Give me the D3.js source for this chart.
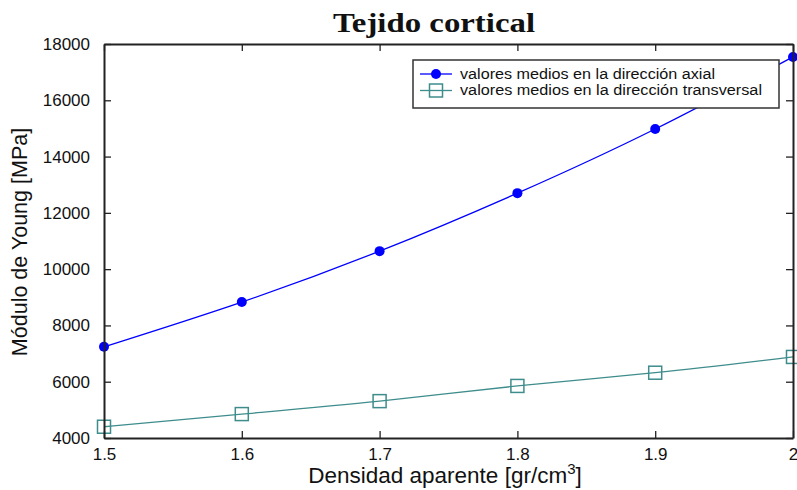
<!DOCTYPE html>
<html>
<head>
<meta charset="utf-8">
<script src="https://cdn.jsdelivr.net/npm/d3@7"></script>
<style>
  body { margin: 0; background: #fff; }
  svg { display: block; }
  text { font-family: "Liberation Sans", Arial, sans-serif; }
</style>
</head>
<body>
<svg id="chart" width="797" height="490"></svg>
<script>
// data
const densidad = [1.5, 1.6, 1.7, 1.8, 1.9, 2.0];
const axial = [7240, 8830, 10640, 12700, 14980, 17540];
const transversal = [4400, 4850, 5310, 5850, 6320, 6880];
const xTicks = [1.5, 1.6, 1.7, 1.8, 1.9, 2];
const yTicks = [4000, 6000, 8000, 10000, 12000, 14000, 16000, 18000];
const series = [
  { name: 'valores medios en la dirección axial', values: axial, color: '#0000ff', marker: 'circle' },
  { name: 'valores medios en la dirección transversal', values: transversal, color: '#3f8c8c', marker: 'square' }
];

const margin = { top: 44, right: 4, bottom: 52, left: 104 };
const svg = d3.select('#chart');
const width = 797 - margin.left - margin.right;
const height = 490 - margin.top - margin.bottom;

const x = d3.scaleLinear().domain([1.5, 2]).range([0, width]);
const y = d3.scaleLinear().domain([4000, 18000]).range([height, 0]);

const g = svg.append('g').attr('transform', `translate(${margin.left},${margin.top})`);

// lines + markers
const line = d3.line()
  .x((d, i) => x(densidad[i]))
  .y(d => y(d))
  .curve(d3.curveNatural);

series.forEach(s => {
  g.append('path')
    .datum(s.values)
    .attr('d', line)
    .attr('fill', 'none')
    .attr('stroke', s.color)
    .attr('stroke-width', 1.3);

  if (s.marker === 'circle') {
    g.selectAll(null).data(s.values).enter().append('circle')
      .attr('cx', (d, i) => x(densidad[i]))
      .attr('cy', d => y(d))
      .attr('r', 5)
      .attr('fill', s.color);
  } else {
    g.selectAll(null).data(s.values).enter().append('rect')
      .attr('x', (d, i) => x(densidad[i]) - 6.5)
      .attr('y', d => y(d) - 6.5)
      .attr('width', 13)
      .attr('height', 13)
      .attr('fill', 'none')
      .attr('stroke', s.color)
      .attr('stroke-width', 1.5);
  }
});

// axes: ticks inward on all four sides
const bottomAxis = g.append('g')
  .attr('transform', `translate(0,${height})`)
  .call(d3.axisBottom(x).tickValues(xTicks).tickFormat(d => d === 2 ? '2' : d3.format('.1f')(d))
    .tickSizeInner(-7).tickSizeOuter(0).tickPadding(10));
const leftAxis = g.append('g')
  .call(d3.axisLeft(y).tickValues(yTicks).tickFormat(d3.format('d'))
    .tickSizeInner(-7).tickSizeOuter(0).tickPadding(14));
const topAxis = g.append('g')
  .call(d3.axisTop(x).tickValues(xTicks).tickFormat('').tickSizeInner(-7).tickSizeOuter(0));
const rightAxis = g.append('g')
  .attr('transform', `translate(${width},0)`)
  .call(d3.axisRight(y).tickValues(yTicks).tickFormat('').tickSizeInner(-7).tickSizeOuter(0));

[bottomAxis, leftAxis, topAxis, rightAxis].forEach(a => {
  a.select('.domain').attr('stroke', '#222').attr('stroke-width', 2);
  a.selectAll('.tick line').attr('stroke', '#222').attr('stroke-width', 1.3);
  a.selectAll('.tick text').attr('fill', '#111').style('font-size', '17px')
    .style('font-family', '"Liberation Sans", Arial, sans-serif');
});
leftAxis.selectAll('.tick text').attr('dy', '0.32em');

// legend
const legendWidths = [255, 302];
const lg = g.append('g').attr('transform', `translate(${413 - margin.left},${60 - margin.top})`);
lg.append('rect')
  .attr('width', 366).attr('height', 48)
  .attr('fill', '#fff').attr('stroke', '#333').attr('stroke-width', 1.5);
series.forEach((s, i) => {
  const cy = 14 + i * 16.5;
  lg.append('line').attr('x1', 7).attr('x2', 39).attr('y1', cy).attr('y2', cy)
    .attr('stroke', s.color).attr('stroke-width', 1.3);
  if (s.marker === 'circle') {
    lg.append('circle').attr('cx', 23).attr('cy', cy).attr('r', 5).attr('fill', s.color);
  } else {
    lg.append('rect').attr('x', 16.5).attr('y', cy - 6.5).attr('width', 13).attr('height', 13)
      .attr('fill', 'none').attr('stroke', s.color).attr('stroke-width', 1.5);
  }
  lg.append('text').attr('x', 47).attr('y', cy).attr('dy', '0.35em')
    .attr('textLength', legendWidths[i]).attr('lengthAdjust', 'spacingAndGlyphs')
    .style('font-size', '14px').attr('fill', '#111').text(s.name);
});

// title and axis labels
svg.append('text')
  .attr('x', 434).attr('y', 32)
  .attr('text-anchor', 'middle')
  .attr('textLength', 202).attr('lengthAdjust', 'spacingAndGlyphs')
  .style('font-family', '"Liberation Serif", "DejaVu Serif", serif')
  .style('font-weight', 'bold').style('font-size', '27px')
  .attr('fill', '#111')
  .text('Tejido cortical');

const xl = svg.append('text')
  .attr('x', 445).attr('y', 483)
  .attr('text-anchor', 'middle')
  .style('font-size', '22.5px').attr('fill', '#111');
xl.append('tspan').text('Densidad aparente [gr/cm');
xl.append('tspan').attr('dy', -9).style('font-size', '15px').text('3');
xl.append('tspan').attr('dy', 9).text(']');

svg.append('text')
  .attr('transform', `translate(27,242) rotate(-90)`)
  .attr('text-anchor', 'middle')
  .style('font-size', '21.5px').attr('fill', '#111')
  .text('Módulo de Young [MPa]');
</script>
</body>
</html>
